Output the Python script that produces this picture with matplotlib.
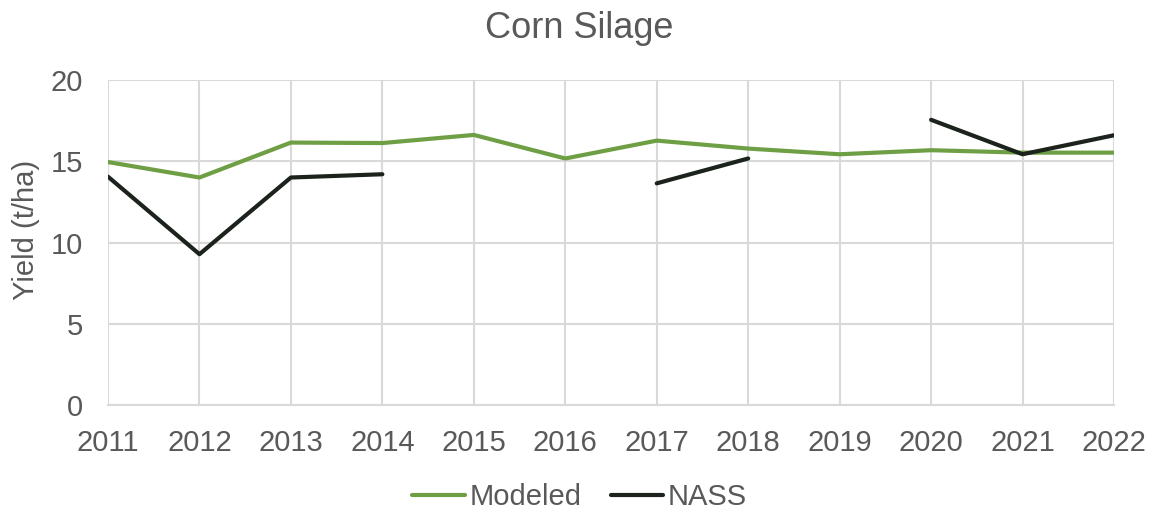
import numpy as np
import matplotlib
matplotlib.use("Agg")
import matplotlib.pyplot as plt

years = [2011, 2012, 2013, 2014, 2015, 2016, 2017, 2018, 2019, 2020, 2021, 2022]
modeled = [14.95, 14.0, 16.15, 16.12, 16.62, 15.17, 16.27, 15.78, 15.43, 15.68, 15.53, 15.53]
nass = [14.05, 9.28, 14.0, 14.2, np.nan, np.nan, 13.64, 15.17, np.nan, 17.55, 15.43, 16.6]

plt.rcParams['font.family'] = ['Liberation Sans', 'DejaVu Sans']
text_color = '#595959'
grid_color = '#d9d9d9'

fig = plt.figure(figsize=(11.59, 5.16), dpi=100)
ax = fig.add_axes([108/1159, 1-405/516, (1114-108)/1159, (405-80)/516])

ax.plot(years, modeled, color='#6F9F45', lw=3, label='Modeled', solid_capstyle='round', zorder=3)
ax.plot(years, nass, color='#1C231C', lw=3, label='NASS', solid_capstyle='round', zorder=4)

ax.set_xlim(2011, 2022)
ax.set_ylim(0, 20)
ax.set_xticks(years)
ax.set_xticklabels([str(y) for y in years])
ax.set_yticks([0, 5, 10, 15, 20])

ax.grid(True, color=grid_color, lw=1.5, zorder=0)
for s in ['top', 'right', 'left']:
    ax.spines[s].set_visible(False)
ax.spines['bottom'].set_color(grid_color)
ax.spines['bottom'].set_linewidth(1.5)
ax.tick_params(axis='both', length=0, labelsize=21, colors=text_color)
ax.tick_params(axis='x', pad=17)
ax.tick_params(axis='y', pad=18)

ax.set_ylabel('Yield (t/ha)', fontsize=21, color=text_color)
ax.yaxis.set_label_coords(-0.068, 0.538)
fig.text(0.5, 1-29/516, 'Corn Silage', ha='center', va='center', fontsize=26, color=text_color)

leg = fig.legend(loc='center', bbox_to_anchor=(0.5, 1-497/516), ncol=2, frameon=False,
                 fontsize=21, handlelength=1.8, handletextpad=0.15, columnspacing=1.0,
                 labelcolor=text_color)

fig.savefig('out.png', dpi=100)
